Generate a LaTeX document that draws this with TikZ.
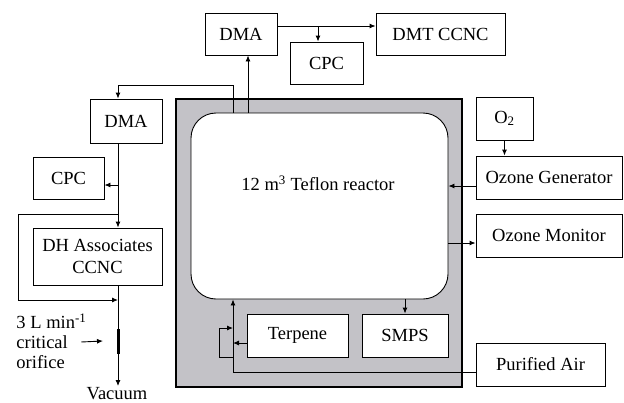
\documentclass[tikz,border=0pt]{standalone}
\usepackage{fontspec}
\setmainfont{Liberation Serif}
\usetikzlibrary{arrows.meta, positioning}
\definecolor{cChamber}{RGB}{195,194,199}
\newcommand{\fs}{\fontsize{18.5}{22}\selectfont}

\begin{document}
\begin{tikzpicture}[x=1pt, y=-1pt, line width=0.9pt,
    unit/.style={draw, fill=white, inner sep=0pt, font=\fs, align=center},
    lbl/.style={inner sep=0pt, font=\fs},
    arr/.style={-{Latex[length=6pt, width=5pt]}}]
  \useasboundingbox (0,0) rectangle (624,402);
  % chamber and reactor
  \node[draw, line width=2.2pt, fill=cChamber, minimum width=286pt, minimum height=288pt,
        inner sep=0pt] (chamber) at (319,243) {};
  \node[draw, fill=white, rounded corners=25pt, minimum width=257pt, minimum height=186pt,
        inner sep=0pt, font=\fs] (reactor) at (319.5,206) {};
  \node[lbl] (rlabel) at (318,183) {12 m\textsuperscript{3} Teflon reactor};
  % top instruments
  \node[unit, minimum width=72pt, minimum height=42pt] (dmaT) at (241,34) {DMA};
  \node[unit, minimum width=73pt, minimum height=42pt] (cpcT) at (326.5,63) {CPC};
  \node[unit, minimum width=129pt, minimum height=42pt] (dmt) at (440.5,34) {DMT CCNC};
  % left instruments
  \node[unit, minimum width=72pt, minimum height=44pt] (dmaL) at (126,121) {DMA};
  \node[unit, minimum width=71pt, minimum height=42pt] (cpcL) at (68.5,178) {CPC};
  \node[unit, minimum width=129pt, minimum height=57pt] (dh) at (97.5,256.5) {DH Associates\\CCNC};
  % right side
  \node[unit, minimum width=57pt, minimum height=43pt] (o2) at (504.5,118.5) {O\textsubscript{2}};
  \node[unit, minimum width=146pt, minimum height=43pt] (og) at (549,177.5) {Ozone Generator};
  \node[unit, minimum width=146pt, minimum height=43pt] (om) at (549,235.5) {Ozone Monitor};
  % bottom
  \node[unit, minimum width=101pt, minimum height=43pt] (terp) at (297.5,335.5) {Terpene};
  \node[unit, minimum width=86pt, minimum height=43pt] (smps) at (405,335.5) {SMPS};
  \node[unit, minimum width=129pt, minimum height=43pt] (air) at (540.5,364.5) {Purified Air};
  % labels by the orifice
  \node[lbl, anchor=west] (rate) at (16,321) {3 L min\textsuperscript{-1}};
  \node[lbl, anchor=west] (crit) at (16,342) {critical};
  \node[lbl, anchor=west] (orifl) at (16,362) {orifice};
  \node[lbl, anchor=base] (vac) at (117,399) {Vacuum};

  \coordinate (upT) at (248,113);
  \coordinate (sampL) at (233,113);
  \coordinate (colL) at (118,85);
  \coordinate (splitT) at (318,26);
  \coordinate (orif) at (118,341);
  \coordinate (feed) at (233,372);

  % top sampling line
  \draw[arr] (upT) -- (upT |- dmaT.south);
  \draw[arr] (dmaT.east |- splitT) -- (dmt.west |- splitT);
  \draw[arr] (splitT) -- (splitT |- cpcT.north);
  % left sampling line
  \draw[arr] (sampL) |- (colL) -- (colL |- dmaL.north);
  \draw[arr] (colL |- dmaL.south) -- (colL |- dh.north);
  \draw[arr] (118,185) -- (cpcL.east |- 0,185);
  \draw[arr] (118,214) -| (18,300) -- (118,300);
  \draw[arr] (colL |- dh.south) -- (118,386);
  \draw[line width=3pt] (118,329) -- (118,354);
  \draw[arr] ([xshift=13pt]crit.east) -- ([xshift=-15pt]orif);
  % ozone
  \draw[arr] (o2.south) -- (o2.south |- og.north);
  \draw[arr] (og.west |- 0,186) -- (reactor.east |- 0,186);
  \draw[arr] (reactor.east |- 0,243) -- (om.west |- 0,243);
  % bottom
  \draw[arr] (smps.north |- reactor.south) -- (smps.north);
  \draw[arr] (air.west |- feed) -- (feed) -- (feed |- reactor.south);
  \draw[arr] (terp.west |- 0,343) -- (feed |- 0,343);
  \draw[arr] (feed |- 0,357) -| (219,328) -- (feed |- 0,328);
\end{tikzpicture}
\end{document}
